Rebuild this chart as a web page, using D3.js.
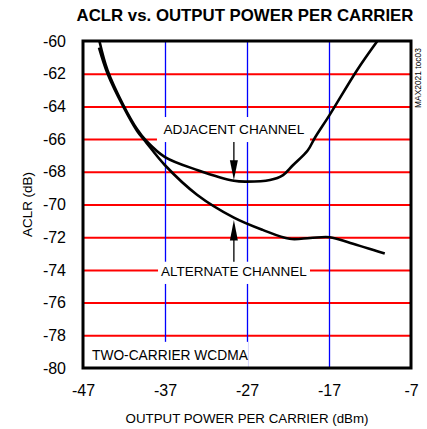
<!DOCTYPE html>
<html>
<head>
<meta charset="utf-8">
<script src="https://cdn.jsdelivr.net/npm/d3@7"></script>
<style>
  body { margin: 0; background: #fff; }
  svg text { font-family: "Liberation Sans", Arial, sans-serif; }
</style>
</head>
<body>
<div id="chart"></div>
<script>
// data
const xTicks = [-47, -37, -27, -17, -7]
const yTicks = [-60, -62, -64, -66, -68, -70, -72, -74, -76, -78, -80]

const adjacentPower = [-45, -44, -42.1, -40.4, -39.3, -37, -33, -28.6, -27, -24.2, -22.6, -21.4, -19.6, -18.7, -16.9, -13.6, -11.1]
const adjacentAclr  = [-60, -61.8, -63.9, -65.4, -66.1, -67.1, -67.9, -68.55, -68.6, -68.5, -68.2, -67.6, -66.7, -65.9, -64.5, -61.8, -60]

const alternatePower = [-45.05, -44, -42.1, -40.4, -39.3, -37, -33.1, -28.6, -25.1, -21.8, -19.3, -16.9, -14.4, -10.2]
const alternateAclr  = [-60.4, -62, -64, -65.5, -66.2, -67.6, -69.4, -70.8, -71.55, -72.1, -72.05, -72.0, -72.35, -73]

// pick a font size so a text gets the width it has in the reference
function fitFont(sel, width) {
    sel.attr("font-size", 16)
    const len = sel.node().getComputedTextLength()
    sel.attr("font-size", 16 * width / len)
    return sel
}

function drawChart(){

    let dimensions = {
        width: 427,
        height: 429,
        margin: { top: 41, right: 16, bottom: 61, left: 83 },
    }
    dimensions.boundedWidth = dimensions.width - dimensions.margin.left - dimensions.margin.right
    dimensions.boundedHeight = dimensions.height - dimensions.margin.top - dimensions.margin.bottom

    const wrapper = d3.select("#chart")
      .append("svg")
        .attr("width", dimensions.width)
        .attr("height", dimensions.height)

    const bounds = wrapper.append("g")
        .attr("transform", `translate(${dimensions.margin.left},${dimensions.margin.top})`)

    const xScale = d3.scaleLinear()
        .domain([-47, -7])
        .range([0, dimensions.boundedWidth])

    const yScale = d3.scaleLinear()
        .domain([-80, -60])
        .range([dimensions.boundedHeight, 0])

    // grid
    const yGrid = bounds.append("g")
        .call(d3.axisLeft(yScale)
            .tickValues(yTicks.slice(1, -1))
            .tickSize(-dimensions.boundedWidth)
            .tickFormat(""))
    yGrid.select(".domain").remove()
    yGrid.selectAll(".tick line")
        .attr("stroke", "red")
        .attr("stroke-width", 2)

    const xGrid = bounds.append("g")
        .attr("transform", `translate(0,${dimensions.boundedHeight})`)
        .call(d3.axisBottom(xScale)
            .tickValues(xTicks.slice(1, -1))
            .tickSize(-dimensions.boundedHeight)
            .tickFormat(""))
    xGrid.select(".domain").remove()
    xGrid.selectAll(".tick line")
        .attr("stroke", "blue")
        .attr("stroke-width", 1.3)

    const boxes = [
        { x0: -37.98, x1: -19.32, y0: -64.65, y1: -66.18 },
        { x0: -37.85, x1: -19.32, y0: -73.5, y1: -74.86 },
        { x0: -46.63, x1: -26.88, y0: -78.4, y1: -80 },
    ]
    bounds.append("g").selectAll("rect")
        .data(boxes)
        .join("rect")
        .attr("x", d => xScale(d.x0))
        .attr("y", d => yScale(d.y0))
        .attr("width", d => xScale(d.x1) - xScale(d.x0))
        .attr("height", d => yScale(d.y1) - yScale(d.y0))
        .attr("fill", "#fff")

    const lineGen = d3.line()
        .x(d => xScale(d[0]))
        .y(d => yScale(d[1]))
        .curve(d3.curveCatmullRom.alpha(0.5))

    bounds.append("g").selectAll("path")
        .data([d3.zip(adjacentPower, adjacentAclr), d3.zip(alternatePower, alternateAclr)])
        .join("path")
        .attr("d", lineGen)
        .attr("fill", "none")
        .attr("stroke", "#000")
        .attr("stroke-width", 2.6)

    const arrowX = xScale(-28.6)
    bounds.append("line")
        .attr("x1", arrowX).attr("x2", arrowX)
        .attr("y1", yScale(-66.18)).attr("y2", yScale(-67.6))
        .attr("stroke", "#000").attr("stroke-width", 1.3)
    bounds.append("path")
        .attr("d", `M${arrowX - 4},${yScale(-67.3)} L${arrowX + 4},${yScale(-67.3)} L${arrowX},${yScale(-68.5)} Z`)
        .attr("fill", "#000")
    bounds.append("line")
        .attr("x1", arrowX).attr("x2", arrowX)
        .attr("y1", yScale(-73.5)).attr("y2", yScale(-72))
        .attr("stroke", "#000").attr("stroke-width", 1.3)
    bounds.append("path")
        .attr("d", `M${arrowX - 4},${yScale(-72.2)} L${arrowX + 4},${yScale(-72.2)} L${arrowX},${yScale(-70.95)} Z`)
        .attr("fill", "#000")

    fitFont(bounds.append("text")
        .attr("x", arrowX).attr("y", yScale(-65.69))
        .attr("text-anchor", "middle")
        .text("ADJACENT CHANNEL"), 141)

    fitFont(bounds.append("text")
        .attr("x", arrowX).attr("y", yScale(-74.4))
        .attr("text-anchor", "middle")
        .text("ALTERNATE CHANNEL"), 146)

    fitFont(bounds.append("text")
        .attr("x", xScale(-45.9)).attr("y", yScale(-79.5))
        .text("TWO-CARRIER WCDMA"), 156)

    bounds.append("rect")
        .attr("width", dimensions.boundedWidth)
        .attr("height", dimensions.boundedHeight)
        .attr("fill", "none")
        .attr("stroke", "#000")
        .attr("stroke-width", 3)

    const xAxis = bounds.append("g")
        .attr("transform", `translate(0,${dimensions.boundedHeight})`)
        .call(d3.axisBottom(xScale)
            .tickValues(xTicks)
            .tickFormat(d => String(d))
            .tickSize(0)
            .tickPadding(17))
    xAxis.select(".domain").remove()
    xAxis.selectAll("text")
        .attr("font-size", 16)
        .attr("fill", "#000")

    const yAxis = bounds.append("g")
        .call(d3.axisLeft(yScale)
            .tickValues(yTicks)
            .tickFormat(d => String(d))
            .tickSize(0)
            .tickPadding(17))
    yAxis.select(".domain").remove()
    yAxis.selectAll("text")
        .attr("font-size", 16)
        .attr("fill", "#000")
    wrapper.selectAll("g").attr("font-family", null)

    fitFont(wrapper.append("text")
        .attr("x", 245).attr("y", 21)
        .attr("text-anchor", "middle")
        .attr("font-weight", "bold")
        .text("ACLR vs. OUTPUT POWER PER CARRIER"), 337)

    fitFont(wrapper.append("text")
        .attr("x", dimensions.margin.left + xScale(-27)).attr("y", 423)
        .attr("text-anchor", "middle")
        .text("OUTPUT POWER PER CARRIER (dBm)"), 243)

    fitFont(wrapper.append("text")
        .attr("transform", `translate(32, ${dimensions.margin.top + yScale(-70)}) rotate(-90)`)
        .attr("text-anchor", "middle")
        .text("ACLR (dB)"), 65)

    fitFont(wrapper.append("text")
        .attr("transform", "translate(421, 108) rotate(-90)")
        .text("MAX2021 toc03"), 60)
}

drawChart()
</script>
</body>
</html>
